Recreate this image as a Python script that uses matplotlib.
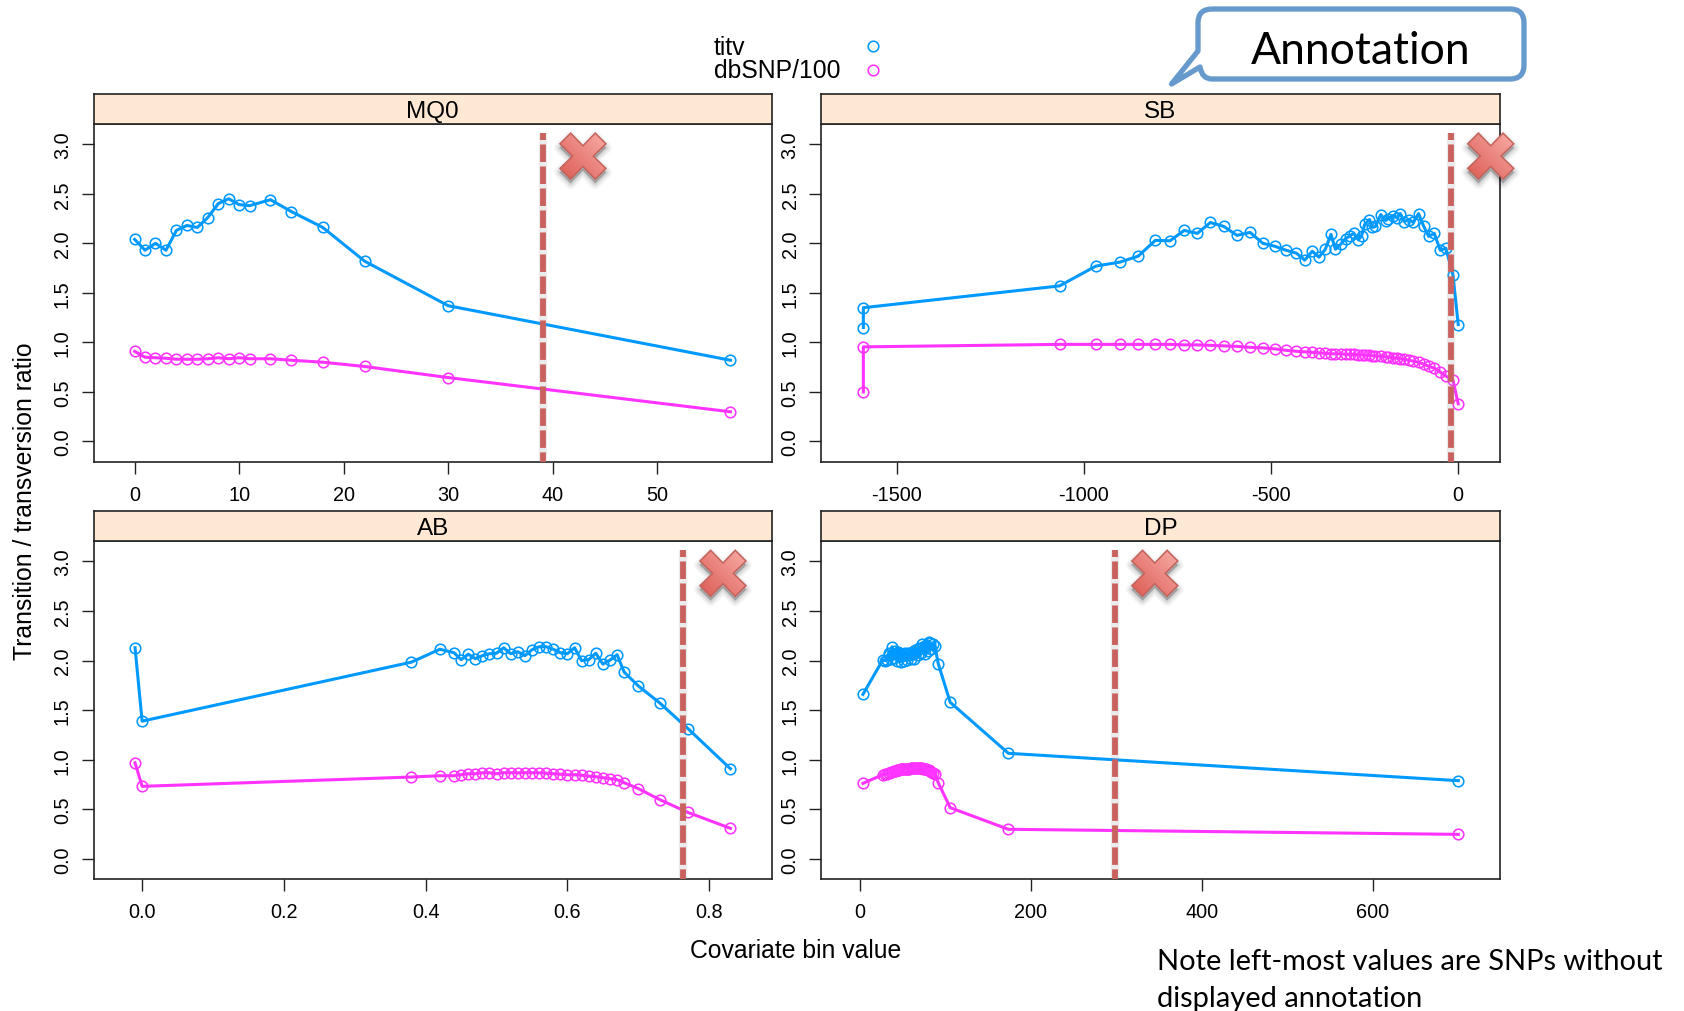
import numpy as np
import matplotlib
matplotlib.use('Agg')
import matplotlib.pyplot as plt
from matplotlib.patches import Polygon, PathPatch
from matplotlib.path import Path

plt.rcParams['font.family'] = ['Liberation Sans', 'DejaVu Sans']

W, H = 1684, 1012
BLUE = '#0099ff'
MAGENTA = '#ff33ff'
RED = '#c9625f'

# MQ0 panel
mq0_x = [0, 1, 2, 3, 4, 5, 6, 7, 8, 9, 10, 11, 13, 15, 18, 22, 30, 57]
mq0_titv = [2.04, 1.93, 2.00, 1.93, 2.13, 2.18, 2.16, 2.26, 2.40, 2.45, 2.39, 2.38, 2.44, 2.32, 2.16, 1.82, 1.37, 0.82]
mq0_db = [0.91, 0.85, 0.845, 0.84, 0.83, 0.83, 0.83, 0.835, 0.845, 0.835, 0.845, 0.835, 0.835, 0.82, 0.80, 0.757, 0.645, 0.30]

# SB panel
sb_x = [-1589, -1589, -1065, -968, -904, -855, -809, -770, -732, -697, -662, -626, -591, -556, -522, -490, -460,
        -432, -410, -390, -372, -355, -340, -328, -314, -301, -290, -279, -267, -258, -250, -237, -229, -221,
        -207, -194, -187, -175, -164, -155, -144, -131, -120, -106, -92, -79, -64, -48, -33, -14, 0]
sb_titv = [1.15, 1.35, 1.57, 1.77, 1.81, 1.87, 2.03, 2.025, 2.13, 2.10, 2.21, 2.17, 2.08, 2.11, 2.00, 1.97, 1.93,
           1.90, 1.83, 1.92, 1.86, 1.94, 2.09, 1.94, 1.99, 2.045, 2.075, 2.10, 2.035, 2.075, 2.19, 2.24, 2.16, 2.17,
           2.29, 2.23, 2.25, 2.28, 2.26, 2.30, 2.22, 2.24, 2.21, 2.30, 2.17, 2.07, 2.10, 1.93, 1.95, 1.68, 1.18]
sb_db = [0.50, 0.955, 0.98, 0.98, 0.98, 0.98, 0.98, 0.98, 0.975, 0.975, 0.97, 0.965, 0.96, 0.95, 0.945, 0.935, 0.92,
         0.91, 0.905, 0.90, 0.895, 0.89, 0.885, 0.885, 0.885, 0.88, 0.88, 0.88, 0.875, 0.875, 0.87, 0.87, 0.865, 0.865,
         0.86, 0.855, 0.85, 0.845, 0.84, 0.835, 0.83, 0.82, 0.81, 0.80, 0.78, 0.76, 0.74, 0.70, 0.66, 0.62, 0.38]

# AB panel
ab_x = [-0.01, 0.0, 0.38, 0.42, 0.44, 0.45, 0.46, 0.47, 0.48, 0.49, 0.50, 0.51, 0.52, 0.53, 0.54, 0.55, 0.56,
        0.57, 0.58, 0.59, 0.60, 0.61, 0.62, 0.63, 0.64, 0.65, 0.66, 0.67, 0.68, 0.70, 0.73, 0.77, 0.83]
ab_titv = [2.13, 1.39, 1.985, 2.115, 2.08, 2.01, 2.065, 2.02, 2.05, 2.07, 2.075, 2.13, 2.07, 2.09, 2.05, 2.11, 2.14,
           2.14, 2.115, 2.08, 2.07, 2.13, 2.00, 2.01, 2.075, 1.965, 2.005, 2.06, 1.885, 1.745, 1.575, 1.315, 0.91]
ab_db = [0.97, 0.733, 0.827, 0.84, 0.84, 0.85, 0.86, 0.86, 0.87, 0.87, 0.86, 0.87, 0.87, 0.87, 0.87, 0.87, 0.87,
         0.865, 0.86, 0.855, 0.85, 0.85, 0.845, 0.835, 0.83, 0.82, 0.81, 0.80, 0.77, 0.71, 0.60, 0.47, 0.31]

# DP panel
dp_x = [4, 27, 30, 32, 34, 35, 37, 38, 40, 41, 42, 44, 45, 46, 48, 49, 50, 52, 53, 54, 56, 57, 58, 60, 61, 62, 64, 65, 66,
        68, 69, 70, 72, 73, 74, 76, 77, 78, 80, 81, 82, 84, 86, 88, 92, 106, 174, 700]
dp_titv = [1.66, 2.005, 2.00, 2.01, 2.08, 2.06, 2.02, 2.14, 2.03, 2.10, 2.07, 2.00, 2.09, 2.08, 1.99, 2.07, 2.05, 2.00, 2.08,
           2.07, 2.01, 2.08, 2.06, 2.02, 2.09, 2.07, 2.02, 2.11, 2.09, 2.06, 2.12, 2.13, 2.08, 2.17, 2.14, 2.07, 2.13,
           2.16, 2.10, 2.19, 2.18, 2.12, 2.17, 2.15, 1.97, 1.58, 1.066, 0.79]
dp_db = [0.763, 0.85, 0.855, 0.86, 0.865, 0.87, 0.875, 0.88, 0.885, 0.885, 0.89, 0.895, 0.895, 0.90, 0.905, 0.905, 0.905, 0.91,
         0.91, 0.91, 0.91, 0.91, 0.91, 0.915, 0.915, 0.915, 0.915, 0.915, 0.915, 0.915, 0.915, 0.915, 0.915, 0.915, 0.91, 0.91,
         0.91, 0.905, 0.90, 0.895, 0.89, 0.88, 0.87, 0.86, 0.77, 0.518, 0.30, 0.249]

y_ticks = [0.0, 0.5, 1.0, 1.5, 2.0, 2.5, 3.0]

# name, x, titv, db, x ticks, tick labels, xlim, cutoff, left, strip top, panel top, bottom
panels = [
    ('MQ0', mq0_x, mq0_titv, mq0_db, [0, 10, 20, 30, 40, 50], ['0', '10', '20', '30', '40', '50'],
     (-3.93, 60.97), 39.06, 93.5, 95.0, 124.8, 462.8),
    ('SB', sb_x, sb_titv, sb_db, [-1500, -1000, -500, 0], ['-1500', '-1000', '-500', '0'],
     (-1701.6, 110.8), -20, 821.2, 95.0, 124.8, 462.8),
    ('AB', ab_x, ab_titv, ab_db, [0, 0.2, 0.4, 0.6, 0.8], ['0.0', '0.2', '0.4', '0.6', '0.8'],
     (-0.0686, 0.8886), 0.763, 93.5, 512.4, 542.0, 880.4),
    ('DP', dp_x, dp_titv, dp_db, [0, 200, 400, 600], ['0', '200', '400', '600'],
     (-44.8, 748.3), 298.4, 821.2, 512.4, 542.0, 880.4),
]
PANEL_W = 678.5


def px_axes(fig, left, top, right, bottom, **kw):
    return fig.add_axes([left / W, 1 - bottom / H, (right - left) / W, (bottom - top) / H], **kw)


def draw_cross(over, cx, cy):
    """Red X with soft shadow and gradient, centred on pixel cx, cy."""
    r, tip, a = 23, 10.7, 10.3
    shape = np.array([(-r + tip, -r), (0, -a), (r - tip, -r), (r, -r + tip), (a, 0), (r, r - tip), (r - tip, r),
                      (0, a), (-r + tip, r), (-r, r - tip), (-a, 0), (-r, -r + tip)], dtype=float)
    # shadow: stacked wide outlines, offset downwards
    for lw, alpha in [(9, 0.025), (7, 0.035), (5, 0.045), (3, 0.06), (1, 0.08)]:
        over.add_patch(Polygon(shape + (cx, cy + 4), closed=True, fc='black', ec='black', lw=lw,
                               alpha=alpha, joinstyle='round', zorder=5))
    grad = np.linspace(0, 1, 64)
    gx, gy = np.meshgrid(grad, grad)
    t = (gx + (1 - gy)) / 2
    c0, c1 = np.array([0xdc, 0x5c, 0x55]) / 255, np.array([0xf8, 0xac, 0xa6]) / 255
    img = c0 + (c1 - c0) * t[..., None]
    im = over.imshow(img, extent=(cx - r, cx + r, cy + r, cy - r), zorder=6, aspect='auto')
    patch = Polygon(shape + (cx, cy), closed=True, fc='none', ec='#c4625c', lw=1.1, zorder=7)
    over.add_patch(patch)
    im.set_clip_path(patch)


fig = plt.figure(figsize=(W / 100, H / 100), dpi=100)

# overlay in pixel coordinates for the slide decorations
over = fig.add_axes([0, 0, 1, 1], zorder=10)
over.patch.set_alpha(0)

for name, x, titv, db, xt, xtl, xlim, cut, left, strip_top, top, bottom in panels:
    ax = px_axes(fig, left, top, left + PANEL_W, bottom)
    ax.set_xlim(*xlim)
    ax.set_ylim(-0.205, 3.206)
    ax.plot(x, titv, '-', color=BLUE, lw=2.2, marker='o', ms=7.6, mfc='none', mew=1.15)
    ax.plot(x, db, '-', color=MAGENTA, lw=2.2, marker='o', ms=7.6, mfc='none', mew=1.15)

    # cutoff line with its soft shadow
    ax.plot([cut, cut], [3.115, -0.205], color='#888888', lw=6.0, alpha=0.16, solid_capstyle='butt', zorder=4)
    ax.plot([cut, cut], [3.115, -0.205], color=RED, lw=4.2, ls=(1.8, (3.0, 0.77)), dash_capstyle='butt', zorder=5)

    ax.set_xticks(xt)
    ax.set_xticklabels(xtl, fontsize=14.3)
    ax.set_yticks(y_ticks)
    ax.set_yticklabels(['%.1f' % v for v in y_ticks], fontsize=14.3, rotation=90, va='center')
    ax.tick_params(direction='out', length=8.6, width=1.0, color='#222222', pad=8)
    ax.tick_params(axis='y', pad=7)
    for s in ax.spines.values():
        s.set_linewidth(1.2)
        s.set_color('#222222')

    strip = px_axes(fig, left, strip_top, left + PANEL_W, top)
    strip.set_facecolor('#ffe8d4')
    strip.set_xticks([])
    strip.set_yticks([])
    for s in strip.spines.values():
        s.set_linewidth(1.2)
        s.set_color('#222222')
    strip.text(0.5, 0.44, name, ha='center', va='center', fontsize=17.5, transform=strip.transAxes)

    # red cross sits 40 px right of the cutoff
    cut_px = ax.transData.transform((cut, 0))[0]
    cross_y = ax.transData.transform((cut, 2.88))[1]
    draw_cross(over, cut_px + 40, H - cross_y)

over.set_xlim(0, W)
over.set_ylim(H, 0)
over.axis('off')

# legend
over.text(714, 47.5, 'titv', fontsize=17.8, ha='left', va='center')
over.text(714, 70.5, 'dbSNP/100', fontsize=17.8, ha='left', va='center')
over.plot([873], [46.5], 'o', ms=7.6, mfc='none', mew=1.15, color=BLUE)
over.plot([873], [70.5], 'o', ms=7.6, mfc='none', mew=1.15, color=MAGENTA)

# axis titles
over.text(25, 501, 'Transition / transversion ratio', fontsize=17.8, rotation=90, ha='center', va='center')
over.text(796, 951, 'Covariate bin value', fontsize=17.8, ha='center', va='center')

# callout box
L, R, T, B, rad = 1198, 1524, 10, 80, 14
verts = [(L + rad, T), (R - rad, T), (R, T), (R, T + rad), (R, B - rad), (R, B), (R - rad, B),
         (L + rad, B), (L + 4, B), (1200, 68), (1171.5, 85), (1198, 52), (L, T + rad), (L, T), (L + rad, T)]
codes = [Path.MOVETO, Path.LINETO, Path.CURVE3, Path.CURVE3, Path.LINETO, Path.CURVE3, Path.CURVE3,
         Path.LINETO, Path.CURVE3, Path.CURVE3, Path.LINETO, Path.LINETO, Path.LINETO, Path.CURVE3, Path.CURVE3]
over.add_patch(PathPatch(Path(verts, codes), fc='white', ec='#6699cc', lw=3.8, joinstyle='round', zorder=8))
over.text(1361, 51, 'Annotation', fontsize=32, family=['Lato', 'DejaVu Sans'], ha='center', va='center', zorder=9)

# note
over.text(1157, 962, 'Note left-most values are SNPs without', fontsize=20.9, family=['Lato', 'DejaVu Sans'], ha='left', va='center')
over.text(1157, 999, 'displayed annotation', fontsize=20.9, family=['Lato', 'DejaVu Sans'], ha='left', va='center')

over.set_xlim(0, W)
over.set_ylim(H, 0)
fig.savefig('out.png', dpi=100)
